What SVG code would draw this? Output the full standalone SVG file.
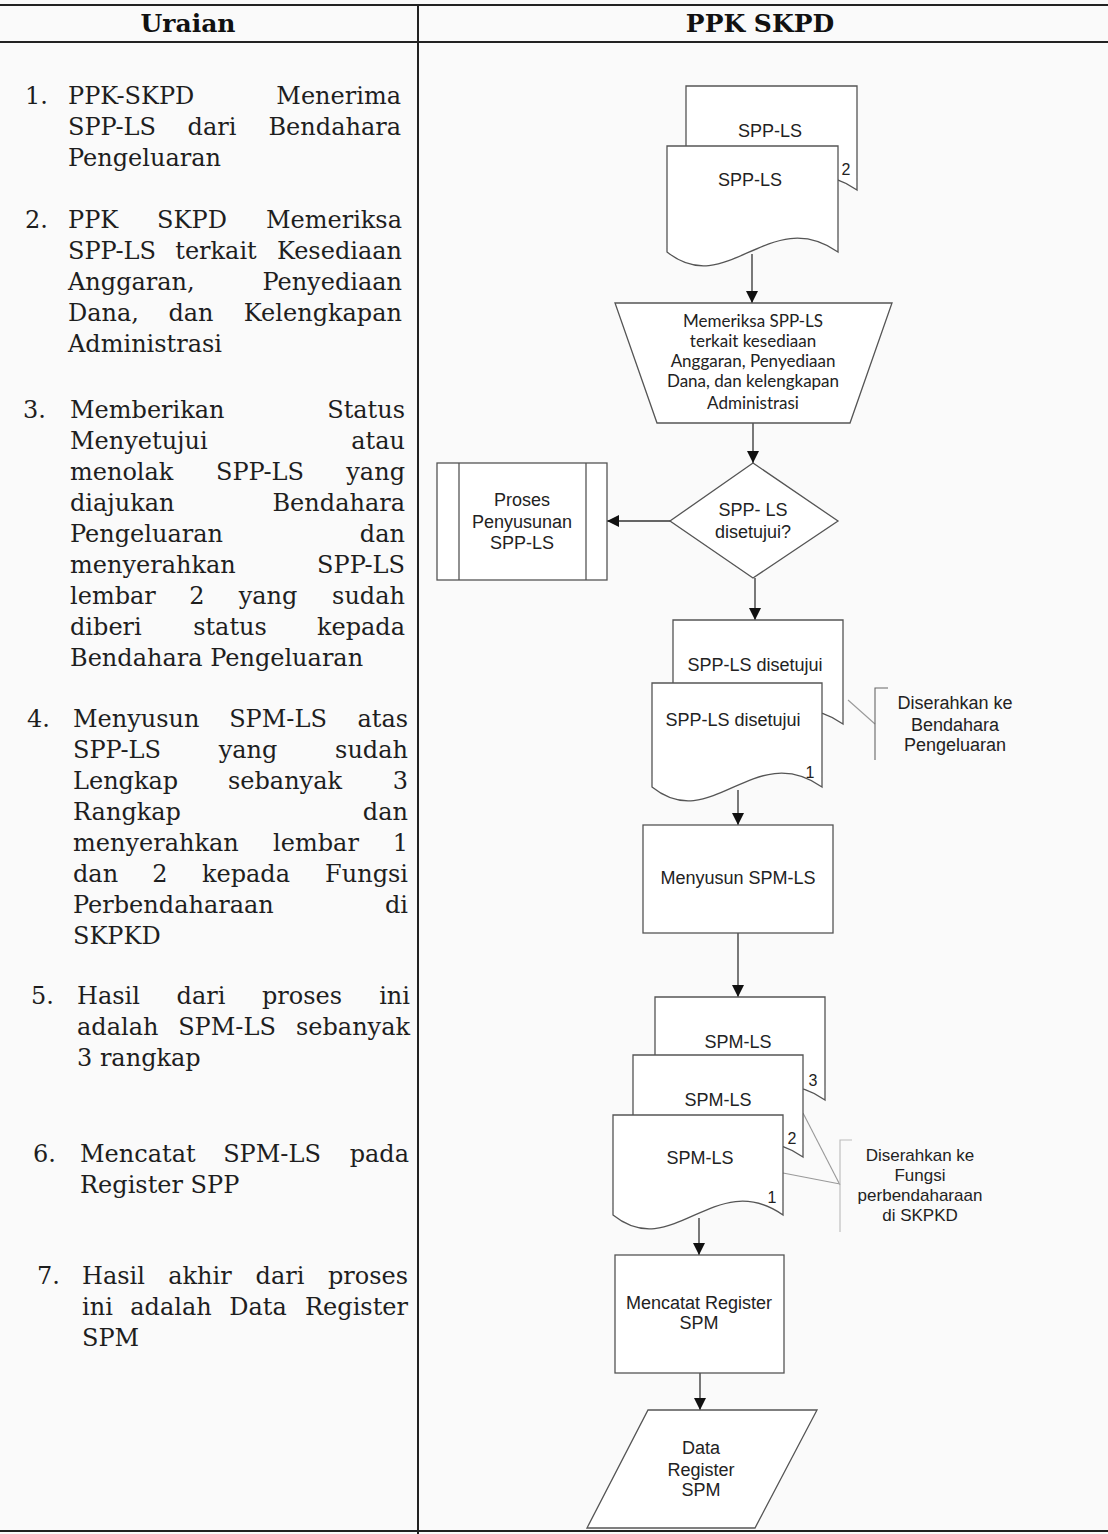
<svg xmlns="http://www.w3.org/2000/svg" width="1108" height="1534" viewBox="0 0 1108 1534">
<style>
.t{font-family:"DejaVu Serif","Liberation Serif",serif;font-size:24px;fill:#1e1e1e}
.e{text-anchor:end}
.m{text-anchor:middle}
.h{font-family:"DejaVu Serif","Liberation Serif",serif;font-size:25px;font-weight:bold;fill:#111;text-anchor:middle}
.s{font-family:"Liberation Sans",Arial,sans-serif;font-size:18px;fill:#222;text-anchor:middle}
.n{font-family:"Liberation Sans",Arial,sans-serif;font-size:16px;fill:#222;text-anchor:middle}
.c{font-family:Lato,"Open Sans",sans-serif;font-size:17px;fill:#222;text-anchor:middle}
.sh{fill:#fff;stroke:#555;stroke-width:1.3}
.ln{stroke:#222;stroke-width:2;fill:none}
.cn{stroke:#333;stroke-width:1.3;fill:none;marker-end:url(#arr)}
.as{stroke:#999;stroke-width:1.1;fill:none}
</style>
<defs>
<marker id="arr" markerUnits="userSpaceOnUse" markerWidth="12" markerHeight="12" refX="12" refY="6" orient="auto">
<path d="M0,0 L12,6 L0,12 z" fill="#111"/>
</marker>
</defs>
<rect x="0" y="0" width="1108" height="1534" fill="#fafafa"/>

<g id="frame">
<line class="ln" x1="0" y1="5" x2="1108" y2="5"/>
<line class="ln" x1="0" y1="42" x2="1108" y2="42"/>
<line class="ln" x1="418" y1="5" x2="418" y2="1534"/>
<line class="ln" x1="0" y1="1531" x2="1108" y2="1531"/>
<text class="h" x="188" y="32">Uraian</text>
<text class="h" x="760" y="32">PPK SKPD</text>
</g>

<g id="uraian">
<text class="t" x="25" y="104">1.</text>
<text class="t" x="68" y="104">PPK-SKPD</text><text class="t e" x="401" y="104">Menerima</text>
<text class="t" x="68" y="135">SPP-LS</text><text class="t m" x="212" y="135">dari</text><text class="t e" x="401" y="135">Bendahara</text>
<text class="t" x="68" y="166">Pengeluaran</text>

<text class="t" x="25" y="228">2.</text>
<text class="t" x="68" y="228">PPK</text><text class="t m" x="192" y="228">SKPD</text><text class="t e" x="402" y="228">Memeriksa</text>
<text class="t" x="68" y="259">SPP-LS</text><text class="t m" x="216" y="259">terkait</text><text class="t e" x="402" y="259">Kesediaan</text>
<text class="t" x="68" y="290">Anggaran,</text><text class="t e" x="402" y="290">Penyediaan</text>
<text class="t" x="68" y="321">Dana,</text><text class="t m" x="191" y="321">dan</text><text class="t e" x="402" y="321">Kelengkapan</text>
<text class="t" x="68" y="352">Administrasi</text>

<text class="t" x="23" y="418">3.</text>
<text class="t" x="70" y="418">Memberikan</text><text class="t e" x="405" y="418">Status</text>
<text class="t" x="70" y="449">Menyetujui</text><text class="t e" x="405" y="449">atau</text>
<text class="t" x="70" y="480">menolak</text><text class="t m" x="260" y="480">SPP-LS</text><text class="t e" x="405" y="480">yang</text>
<text class="t" x="70" y="511">diajukan</text><text class="t e" x="405" y="511">Bendahara</text>
<text class="t" x="70" y="542">Pengeluaran</text><text class="t e" x="405" y="542">dan</text>
<text class="t" x="70" y="573">menyerahkan</text><text class="t e" x="405" y="573">SPP-LS</text>
<text class="t" x="70" y="604">lembar</text><text class="t m" x="197" y="604">2</text><text class="t m" x="268" y="604">yang</text><text class="t e" x="405" y="604">sudah</text>
<text class="t" x="70" y="635">diberi</text><text class="t m" x="230" y="635">status</text><text class="t e" x="405" y="635">kepada</text>
<text class="t" x="70" y="666">Bendahara Pengeluaran</text>

<text class="t" x="27" y="727">4.</text>
<text class="t" x="73" y="727">Menyusun</text><text class="t m" x="278" y="727">SPM-LS</text><text class="t e" x="408" y="727">atas</text>
<text class="t" x="73" y="758">SPP-LS</text><text class="t m" x="248" y="758">yang</text><text class="t e" x="408" y="758">sudah</text>
<text class="t" x="73" y="789">Lengkap</text><text class="t m" x="285" y="789">sebanyak</text><text class="t e" x="408" y="789">3</text>
<text class="t" x="73" y="820">Rangkap</text><text class="t e" x="408" y="820">dan</text>
<text class="t" x="73" y="851">menyerahkan</text><text class="t m" x="316" y="851">lembar</text><text class="t e" x="408" y="851">1</text>
<text class="t" x="73" y="882">dan</text><text class="t m" x="160" y="882">2</text><text class="t m" x="246" y="882">kepada</text><text class="t e" x="408" y="882">Fungsi</text>
<text class="t" x="73" y="913">Perbendaharaan</text><text class="t e" x="408" y="913">di</text>
<text class="t" x="73" y="944">SKPKD</text>

<text class="t" x="31" y="1004">5.</text>
<text class="t" x="77" y="1004">Hasil</text><text class="t m" x="201" y="1004">dari</text><text class="t m" x="302" y="1004">proses</text><text class="t e" x="410" y="1004">ini</text>
<text class="t" x="77" y="1035">adalah</text><text class="t m" x="227" y="1035">SPM-LS</text><text class="t e" x="410" y="1035">sebanyak</text>
<text class="t" x="77" y="1066">3 rangkap</text>

<text class="t" x="33" y="1162">6.</text>
<text class="t" x="80" y="1162">Mencatat</text><text class="t m" x="272" y="1162">SPM-LS</text><text class="t e" x="409" y="1162">pada</text>
<text class="t" x="80" y="1193">Register SPP</text>

<text class="t" x="37" y="1284">7.</text>
<text class="t" x="82" y="1284">Hasil</text><text class="t m" x="200" y="1284">akhir</text><text class="t m" x="280" y="1284">dari</text><text class="t e" x="408" y="1284">proses</text>
<text class="t" x="82" y="1315">ini</text><text class="t m" x="171" y="1315">adalah</text><text class="t m" x="258" y="1315">Data</text><text class="t e" x="408" y="1315">Register</text>
<text class="t" x="82" y="1346">SPM</text>
</g>

<g id="connectors">
<line class="cn" x1="752" y1="254" x2="752" y2="303"/>
<line class="cn" x1="753" y1="423" x2="753" y2="463"/>
<line class="cn" x1="670" y1="521" x2="607" y2="521"/>
<line class="cn" x1="755" y1="578" x2="755" y2="620"/>
<line class="cn" x1="738" y1="790" x2="738" y2="825"/>
<line class="cn" x1="738" y1="933" x2="738" y2="997"/>
<line class="cn" x1="699" y1="1218" x2="699" y2="1255"/>
<line class="cn" x1="700" y1="1373" x2="700" y2="1410"/>
<line class="as" x1="848" y1="700" x2="875" y2="724"/>
<line class="as" x1="803" y1="1113" x2="840" y2="1185"/>
<line class="as" x1="783" y1="1173" x2="840" y2="1184"/>
</g>

<g id="doc-spp">
<path class="sh" d="M686 86 H857 V190 C788.6 142 745.9 238 686 190 Z"/>
<text class="s" x="770" y="137">SPP-LS</text>
<text class="n" x="846" y="175">2</text>
<path class="sh" d="M667 146 H838 V252 C769.6 204 726.9 300 667 252 Z"/>
<text class="s" x="750" y="186">SPP-LS</text>
</g>

<g id="memeriksa">
<polygon class="sh" points="615,303 892,303 850,423 657,423"/>
<text class="c" x="753" y="327">Memeriksa SPP-LS</text>
<text class="c" x="753" y="347">terkait kesediaan</text>
<text class="c" x="753" y="367">Anggaran, Penyediaan</text>
<text class="c" x="753" y="387">Dana, dan kelengkapan</text>
<text class="c" x="753" y="409">Administrasi</text>
</g>

<g id="keputusan">
<polygon class="sh" points="753,463 838,521 753,578 670,521"/>
<text class="s" x="753" y="516">SPP- LS</text>
<text class="s" x="753" y="538">disetujui?</text>
</g>

<g id="proses-penyusunan">
<rect class="sh" x="437" y="463" width="170" height="117"/>
<line class="sh" x1="459" y1="463" x2="459" y2="580"/>
<line class="sh" x1="586" y1="463" x2="586" y2="580"/>
<text class="s" x="522" y="506">Proses</text>
<text class="s" x="522" y="528">Penyusunan</text>
<text class="s" x="522" y="549">SPP-LS</text>
</g>

<g id="doc-disetujui">
<path class="sh" d="M673 620 H843 V724 C775 676 732.5 772 673 724 Z"/>
<text class="s" x="755" y="671">SPP-LS disetujui</text>
<path class="sh" d="M652 683 H822 V787 C754 739 711.5 835 652 787 Z"/>
<text class="s" x="733" y="726">SPP-LS disetujui</text>
<text class="n" x="810" y="778">1</text>
</g>

<g id="note-bendahara">
<path class="as" d="M888 688 H875 V760" style="stroke:#666"/>
<text class="s" x="955" y="709">Diserahkan ke</text>
<text class="s" x="955" y="731">Bendahara</text>
<text class="s" x="955" y="751">Pengeluaran</text>
</g>

<g id="menyusun-spm">
<rect class="sh" x="643" y="825" width="190" height="108"/>
<text class="s" x="738" y="884">Menyusun SPM-LS</text>
</g>

<g id="doc-spm">
<path class="sh" d="M655 997 H825 V1100 C757 1052 714.5 1148 655 1100 Z"/>
<text class="s" x="738" y="1048">SPM-LS</text>
<text class="n" x="813" y="1086">3</text>
<path class="sh" d="M633 1055 H803 V1157 C735 1109 692.5 1205 633 1157 Z"/>
<text class="s" x="718" y="1106">SPM-LS</text>
<text class="n" x="792" y="1144">2</text>
<path class="sh" d="M613 1115 H783 V1215 C715 1167 672.5 1263 613 1215 Z"/>
<text class="s" x="700" y="1164">SPM-LS</text>
<text class="n" x="772" y="1203">1</text>
</g>

<g id="note-fungsi">
<path class="as" d="M852 1140 H840 V1232" style="stroke:#bbb"/>
<text class="s" x="920" y="1161" style="font-size:17px">Diserahkan ke</text>
<text class="s" x="920" y="1181" style="font-size:17px">Fungsi</text>
<text class="s" x="920" y="1201" style="font-size:17px">perbendaharaan</text>
<text class="s" x="920" y="1221" style="font-size:17px">di SKPKD</text>
</g>

<g id="mencatat-register">
<rect class="sh" x="615" y="1255" width="169" height="118"/>
<text class="s" x="699" y="1309">Mencatat Register</text>
<text class="s" x="699" y="1329">SPM</text>
</g>

<g id="data-register">
<polygon class="sh" points="648,1410 817,1410 755,1528 587,1528"/>
<text class="s" x="701" y="1454">Data</text>
<text class="s" x="701" y="1476">Register</text>
<text class="s" x="701" y="1496">SPM</text>
</g>
</svg>
